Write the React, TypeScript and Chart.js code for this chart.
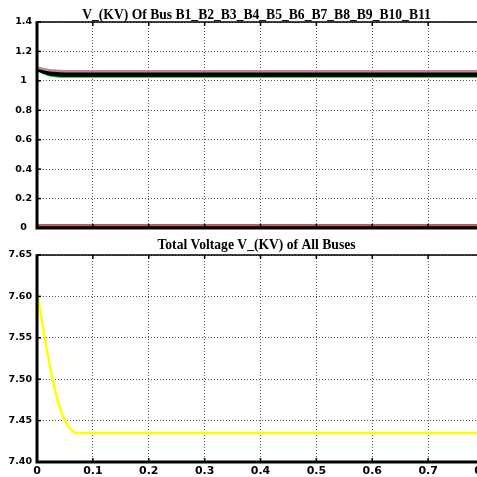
import React, { useEffect, useRef } from "react";
import { Chart, registerables } from "chart.js";

Chart.register(...registerables);

// ---------- data ----------
const topTitle = "V_(KV) Of Bus B1_B2_B3_B4_B5_B6_B7_B8_B9_B10_B11";
const bottomTitle = "Total Voltage V_(KV) of All Buses";

const xTickValues = [0, 0.1, 0.2, 0.3, 0.4, 0.5, 0.6, 0.7, 0.8];
const topYTicks = [0, 0.2, 0.4, 0.6, 0.8, 1, 1.2, 1.4];
const bottomYTicks = [7.4, 7.45, 7.5, 7.55, 7.6, 7.65];

const timeTop = [0, 0.01, 0.02, 0.03, 0.04, 0.05, 0.8];
const busNames = ["B1", "B2", "B3", "B4", "B5", "B6", "B7", "B8", "B9", "B10", "B11"];
const busB1 = [1.09, 1.082, 1.074, 1.07, 1.067, 1.066, 1.066];
const busB2 = [1.088, 1.078, 1.069, 1.064, 1.061, 1.06, 1.06];
const busB3 = [1.085, 1.074, 1.064, 1.058, 1.055, 1.054, 1.054];
const busB4 = [1.083, 1.071, 1.06, 1.054, 1.05, 1.049, 1.049];
const busB5 = [1.08, 1.068, 1.057, 1.05, 1.046, 1.045, 1.045];
const busB6 = [1.078, 1.065, 1.053, 1.046, 1.042, 1.041, 1.041];
const busB7 = [1.076, 1.062, 1.05, 1.043, 1.039, 1.038, 1.038];
const busB8 = [1.074, 1.06, 1.047, 1.04, 1.036, 1.035, 1.035];
const busB9 = [1.07, 1.052, 1.037, 1.029, 1.025, 1.024, 1.024];
const busB10 = [0.02, 0.02, 0.02, 0.02, 0.02, 0.02, 0.02];
const busB11 = [0.012, 0.012, 0.012, 0.012, 0.012, 0.012, 0.012];
const busSeries = [busB1, busB2, busB3, busB4, busB5, busB6, busB7, busB8, busB9, busB10, busB11];
const busColors = [
  "#b48c8c", "#000000", "#000000", "#000000", "#000000", "#000000",
  "#000000", "#000000", "#22e060", "#b06060", "#6a2a2a",
];
const busWidths = [2.5, 2.5, 2.5, 2.5, 2.5, 2.5, 2.5, 2.5, 1.5, 2, 2];

const timeBottom = [0, 0.007, 0.014, 0.02, 0.028, 0.038, 0.05, 0.06, 0.07, 0.8];
const totalVoltage = [7.605, 7.578, 7.55, 7.527, 7.5, 7.472, 7.45, 7.44, 7.435, 7.435];

// ---------- helpers ----------
const FONT_TICK = '"DejaVu Sans"';
const FONT_TITLE = '"Liberation Serif"';

function makeFramePlugin(title: string, titleOffset: number, yTicks: number[]) {
  return {
    id: "frame",
    afterDatasetsDraw(chart: any) {
      const { ctx, chartArea, scales } = chart;
      const { left, right, top, bottom } = chartArea;
      ctx.save();
      ctx.strokeStyle = "#000";
      ctx.lineCap = "butt";
      // top border
      ctx.lineWidth = 1.5;
      ctx.beginPath();
      ctx.moveTo(left, top);
      ctx.lineTo(right + 10, top);
      ctx.stroke();
      // inner ticks
      ctx.lineWidth = 1.5;
      for (const v of xTickValues) {
        const px = scales.x.getPixelForValue(v);
        ctx.beginPath();
        ctx.moveTo(px, top);
        ctx.lineTo(px, top + 4);
        ctx.moveTo(px, bottom);
        ctx.lineTo(px, bottom - 4);
        ctx.stroke();
      }
      for (const v of yTicks) {
        const py = scales.y.getPixelForValue(v);
        ctx.beginPath();
        ctx.moveTo(left, py);
        ctx.lineTo(left + 4, py);
        ctx.stroke();
      }
      // left and bottom thick axes
      ctx.lineWidth = 3;
      ctx.beginPath();
      ctx.moveTo(left, top - 0.75);
      ctx.lineTo(left, bottom + 1.5);
      ctx.moveTo(left - 1.5, bottom);
      ctx.lineTo(right + 10, bottom);
      ctx.stroke();
      // title
      ctx.fillStyle = "#000";
      ctx.font = `bold 13.6px ${FONT_TITLE}`;
      ctx.textAlign = "center";
      ctx.textBaseline = "alphabetic";
      ctx.fillText(title, (left + right) / 2 - 4, top - titleOffset);
      ctx.restore();
    },
  };
}

function baseOptions(
  yMin: number,
  yMax: number,
  yStep: number,
  topPad: number,
  xHeight: number,
  showX: boolean,
  yFormat: (v: number) => string
): any {
  return {
    responsive: false,
    animation: false,
    layout: { padding: { top: topPad, left: 0, right: 0, bottom: 0 } },
    plugins: { legend: { display: false }, tooltip: { enabled: false }, title: { display: false } },
    elements: { point: { radius: 0 } },
    scales: {
      x: {
        type: "linear",
        min: 0,
        max: 0.8,
        grid: { color: "#555", lineWidth: 1, drawTicks: false },
        border: { display: false, dash: [1, 2] },
        ticks: {
          display: showX,
          stepSize: 0.1,
          padding: 3,
          color: "#000",
          font: { family: FONT_TICK, weight: "bold", size: 11 },
          callback: (v: number) => (Math.abs(v) < 1e-9 ? "0" : Number(v).toFixed(1)),
        },
        afterFit: (s: any) => {
          s.height = xHeight;
          s.paddingLeft = 0;
          s.paddingRight = 0;
        },
      },
      y: {
        type: "linear",
        min: yMin,
        max: yMax,
        grid: { color: "#555", lineWidth: 1, drawTicks: false },
        border: { display: false, dash: [1, 2] },
        ticks: {
          stepSize: yStep,
          padding: 5,
          crossAlign: "center",
          color: "#000",
          font: { family: FONT_TICK, weight: "bold", size: 9.5 },
          callback: yFormat,
        },
        afterFit: (s: any) => {
          s.width = 37;
          s.paddingTop = 0;
          s.paddingBottom = 0;
        },
      },
    },
  };
}

export default function App() {
  const topRef = useRef<HTMLCanvasElement | null>(null);
  const bottomRef = useRef<HTMLCanvasElement | null>(null);

  useEffect(() => {
    const topChart = new Chart(topRef.current as HTMLCanvasElement, {
      type: "line",
      data: {
        datasets: busSeries.map((vals, i) => ({
          label: busNames[i],
          data: timeTop.map((t, j) => ({ x: t, y: vals[j] })),
          borderColor: busColors[i],
          borderWidth: busWidths[i],
          pointRadius: 0,
          cubicInterpolationMode: "monotone" as const,
          fill: false,
        })),
      },
      options: baseOptions(0, 1.4, 0.2, 22, 8, false, (v: number) => String(Math.round(v * 10) / 10)),
      plugins: [makeFramePlugin(topTitle, 3.5, topYTicks)],
    } as any);

    const bottomChart = new Chart(bottomRef.current as HTMLCanvasElement, {
      type: "line",
      data: {
        datasets: [
          {
            label: "Total Voltage",
            data: timeBottom.map((t, j) => ({ x: t, y: totalVoltage[j] })),
            borderColor: "#ffff00",
            borderWidth: 2.5,
            pointRadius: 0,
            cubicInterpolationMode: "monotone" as const,
            fill: false,
          },
        ],
      },
      options: baseOptions(7.4, 7.65, 0.05, 19, 15, true, (v: number) => Number(v).toFixed(2)),
      plugins: [makeFramePlugin(bottomTitle, 5.7, bottomYTicks)],
    } as any);

    return () => {
      topChart.destroy();
      bottomChart.destroy();
    };
  }, []);

  return (
    <div
      style={{
        position: "fixed",
        left: 0,
        top: 0,
        width: 484,
        height: 477,
        background: "#fff",
        overflow: "hidden",
      }}
    >
      <canvas ref={topRef} width={484} height={236} style={{ display: "block" }} />
      <canvas ref={bottomRef} width={484} height={241} style={{ display: "block" }} />
    </div>
  );
}
